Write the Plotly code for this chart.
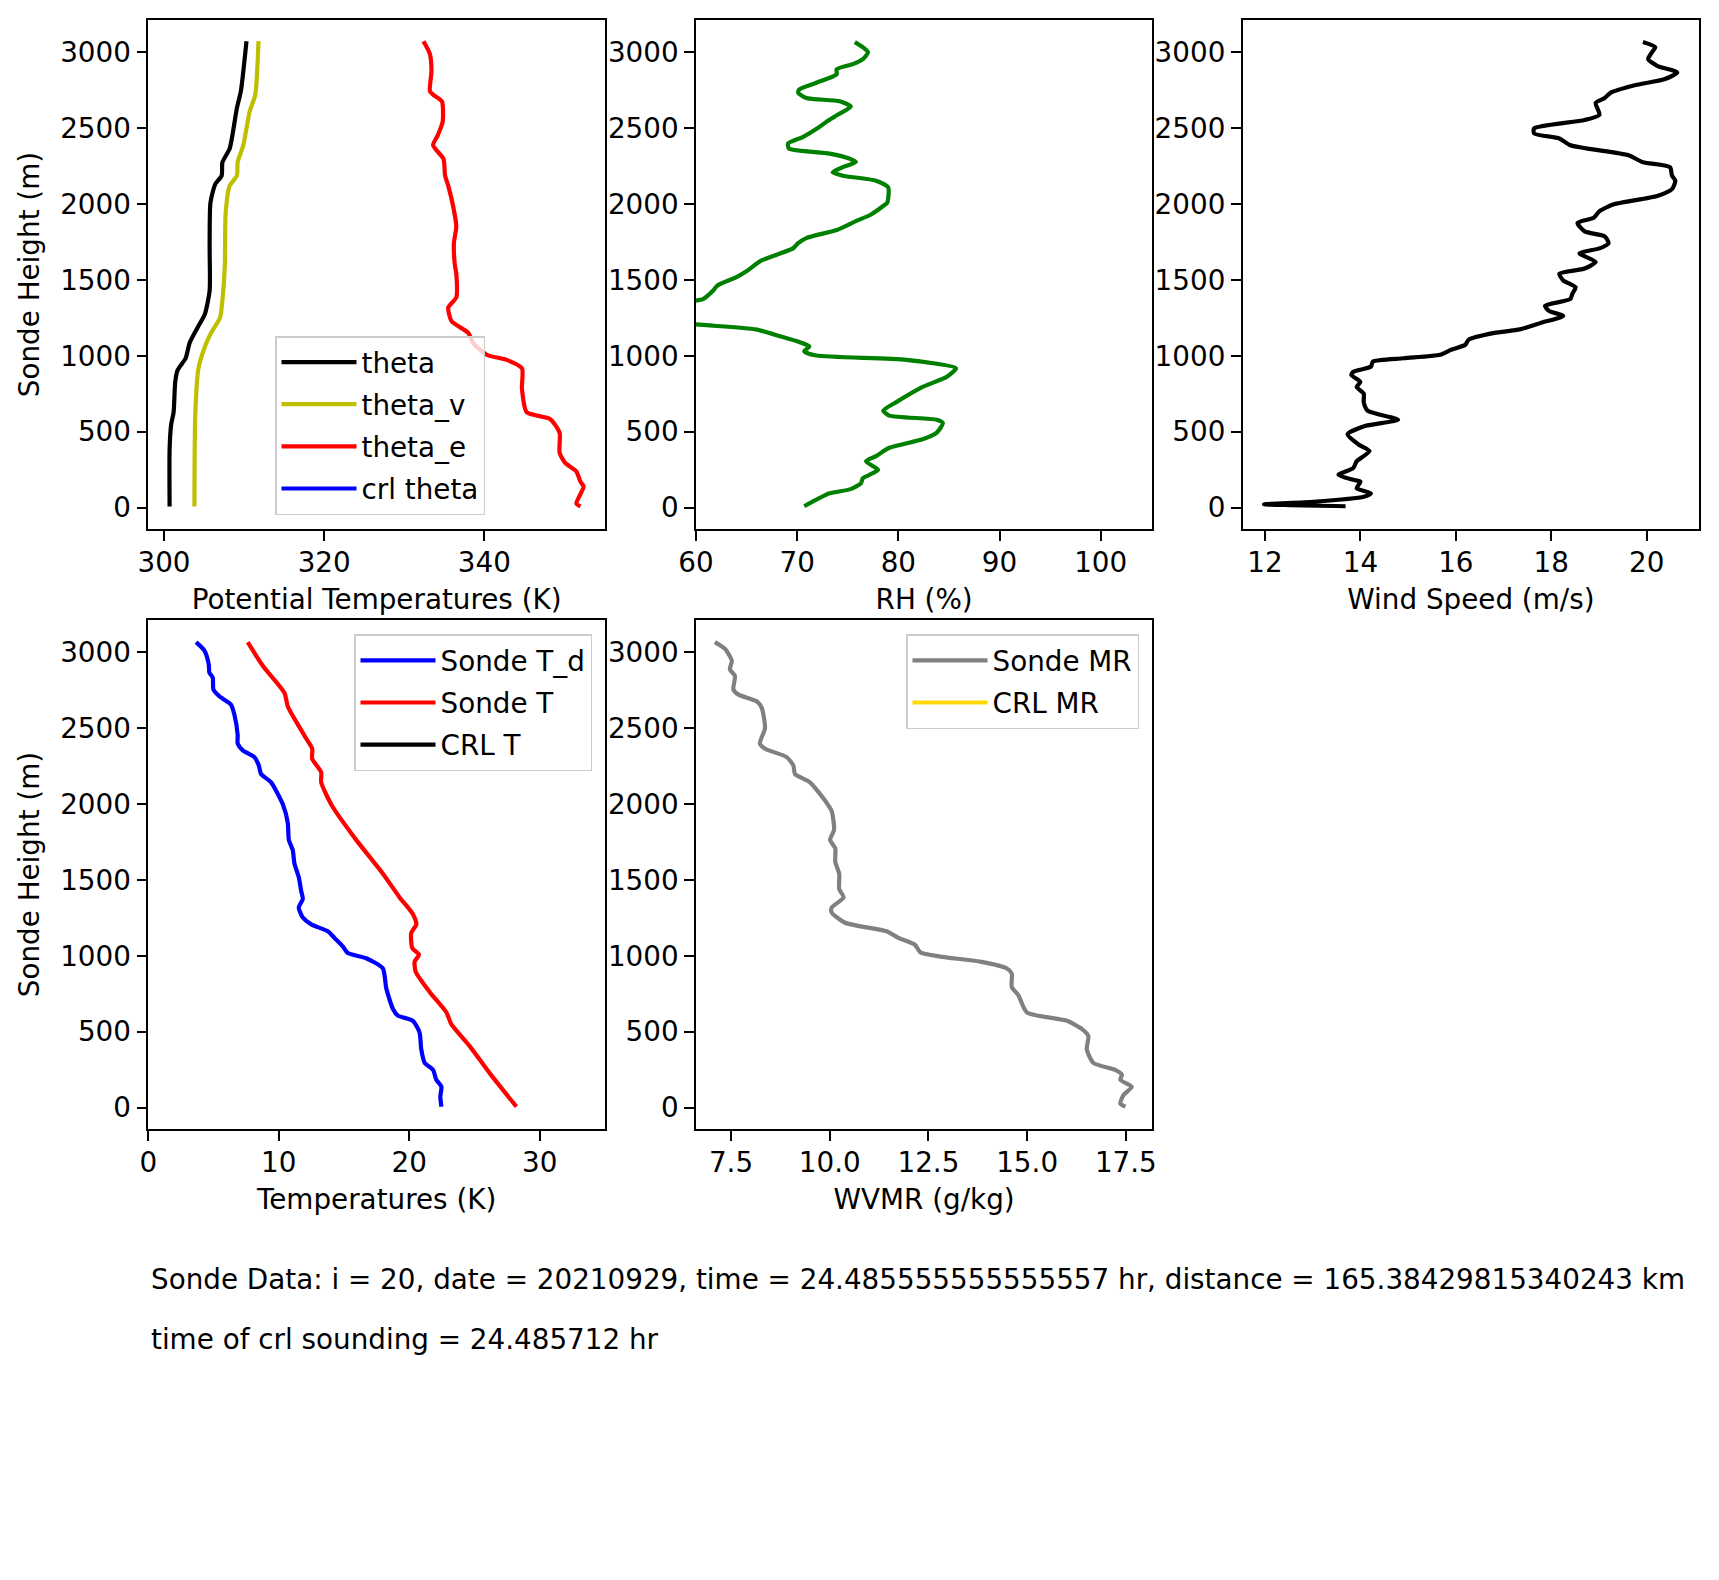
import plotly.graph_objects as go

# ---------------- data ----------------
theta_h = [3073, 2744, 2632, 2365, 2276, 2187, 2131, 2009, 1719, 1430, 1274, 1196, 1085, 984, 906, 828, 628, 550, 383, 8]
theta_v = [310.3, 309.6, 309.1, 308.2, 307.3, 307.2, 306.4, 305.8, 305.7, 305.7, 305.1, 304.3, 303.2, 302.7, 301.7, 301.4, 301.2, 300.9, 300.7, 300.7]

thetav_h = [3073, 2721, 2610, 2387, 2276, 2187, 2120, 1942, 1608, 1430, 1252, 1162, 1073, 918, 606, 8]
thetav_v = [311.8, 311.4, 310.7, 309.9, 309.2, 309.1, 308.2, 307.7, 307.6, 307.4, 307.0, 306.0, 305.2, 304.3, 303.9, 303.8]

thetae_h = [3073, 2989, 2877, 2744, 2721, 2677, 2543, 2454, 2387, 2298, 2187, 2120, 1987, 1853, 1742, 1608, 1541,
            1385, 1318, 1229, 1151, 1085, 1007, 973, 918, 784, 628, 584, 494, 361, 294, 238, 171, 138, 27, 8]
thetae_v = [332.4, 333.2, 333.4, 333.2, 333.6, 334.7, 334.8, 334.2, 333.6, 334.9, 335.1, 335.5, 336.1, 336.5, 336.2,
            336.3, 336.5, 336.5, 335.5, 335.9, 338.0, 338.6, 340.3, 342.8, 344.7, 344.7, 345.3, 348.2, 349.4, 349.4,
            350.1, 351.5, 352.0, 352.4, 351.5, 352.0]

rh_h = [3067, 3033, 3000, 2955, 2922, 2888, 2855, 2799, 2755, 2733, 2699, 2677, 2643, 2588, 2543, 2499, 2443, 2399,
        2365, 2332, 2298, 2276, 2243, 2209, 2187, 2154, 2109, 2009, 1987, 1931, 1887, 1831, 1776, 1742, 1708, 1626,
        1563, 1519, 1463, 1430, 1374, 1363, 1330, 1290, 1240, 1207, 1174, 1129, 1091, 1062, 1029, 1002, 973, 918,
        862, 795, 695, 639, 606, 579, 557, 494, 450, 394, 339, 305, 249, 194, 160, 120, 94, 9]
rh_v = [75.7, 76.5, 77.0, 76.5, 75.5, 73.9, 73.9, 71.9, 70.2, 70.1, 70.9, 74.2, 75.3, 74.0, 72.9, 72.0, 70.6, 69.1,
        69.2, 73.2, 75.2, 75.8, 74.5, 73.5, 74.5, 77.8, 79.0, 78.9, 78.5, 77.3, 75.8, 74.0, 70.9, 70.1, 69.6, 66.4,
        65.1, 64.0, 62.1, 61.7, 60.7, 59.9, 57.0, 52.0, 56.0, 60.0, 65.9, 68.3, 70.2, 71.2, 70.7, 71.9, 80.8, 85.7,
        84.8, 82.4, 79.8, 78.5, 79.1, 83.8, 84.4, 83.8, 82.4, 79.1, 77.8, 76.8, 78.0, 76.5, 76.3, 75.2, 73.2, 70.7]

ws_h = [3067, 3033, 3000, 2955, 2911, 2866, 2822, 2784, 2733, 2699, 2666, 2588, 2554, 2499, 2465, 2432, 2387, 2321,
        2276, 2243, 2187, 2154, 2098, 2053, 1998, 1953, 1909, 1876, 1820, 1787, 1742, 1708, 1675, 1619, 1575, 1541,
        1497, 1452, 1408, 1374, 1330, 1296, 1263, 1218, 1174, 1151, 1107, 1073, 1040, 1007, 984, 962, 929, 895,
        873, 828, 795, 751, 695, 639, 579, 539, 483, 416, 372, 305, 261, 216, 183, 171, 127, 94, 71, 38, 22, 9]
ws_v = [19.92, 20.18, 20.11, 20.03, 20.22, 20.64, 20.37, 19.77, 19.24, 19.12, 18.93, 19.01, 18.70, 17.64, 17.64,
        18.17, 18.40, 19.62, 19.92, 20.49, 20.53, 20.60, 20.53, 20.22, 19.31, 19.01, 18.89, 18.55, 18.70, 19.12,
        19.20, 19.01, 18.59, 18.93, 18.70, 18.17, 18.25, 18.51, 18.44, 18.40, 17.87, 17.95, 18.25, 17.79, 17.34,
        16.81, 16.27, 16.20, 15.90, 15.67, 14.91, 14.26, 14.22, 13.85, 13.81, 14.00, 13.92, 14.07, 14.07, 14.15,
        14.79, 14.11, 13.73, 13.96, 14.19, 13.92, 13.85, 13.54, 13.85, 14.00, 13.92, 14.22, 14.07, 13.01, 11.98, 13.69]

td_h = [3067, 3011, 2922, 2866, 2833, 2755, 2710, 2655, 2588, 2454, 2399, 2354, 2309, 2254, 2198, 2143, 1998, 1875,
        1764, 1697, 1608, 1519, 1430, 1374, 1318, 1252, 1207, 1162, 1118, 1062, 1018, 984, 918, 784, 650, 606, 572,
        494, 383, 294, 249, 183, 138, 71, 6]
td_v = [3.66, 4.30, 4.63, 4.68, 4.94, 4.99, 5.45, 6.34, 6.60, 6.85, 6.85, 7.24, 8.13, 8.47, 8.64, 9.41, 10.31, 10.69,
        10.77, 11.07, 11.20, 11.53, 11.71, 11.84, 11.53, 11.84, 12.48, 13.76, 14.27, 14.91, 15.29, 16.70, 17.97,
        18.24, 18.75, 19.13, 20.28, 20.79, 20.92, 21.18, 21.82, 22.07, 22.46, 22.38, 22.46]

t_h = [3067, 2911, 2733, 2643, 2543, 2432, 2365, 2298, 2209, 2143, 1987, 1764, 1541, 1385, 1274, 1207, 1151, 1051,
       1007, 962, 895, 762, 628, 550, 405, 227, 6]
t_v = [7.62, 8.77, 10.43, 10.69, 11.33, 12.10, 12.56, 12.56, 13.25, 13.25, 14.09, 15.93, 17.98, 19.26, 20.28, 20.54,
       20.15, 20.23, 20.74, 20.41, 20.49, 21.56, 22.84, 23.22, 24.63, 26.16, 28.21]

mr_h = [3067, 3022, 2944, 2888, 2844, 2755, 2721, 2677, 2632, 2499, 2399, 2365, 2309, 2254, 2198, 2143, 2009, 1953,
        1831, 1764, 1708, 1619, 1541, 1441, 1385, 1318, 1285, 1218, 1162, 1118, 1073, 1024, 995, 962, 918, 884, 795,
        740, 628, 572, 517, 472, 383, 294, 249, 216, 183, 138, 82, 27, 6]
mr_v = [7.09, 7.35, 7.52, 7.47, 7.60, 7.56, 7.69, 8.15, 8.28, 8.36, 8.23, 8.36, 8.91, 9.08, 9.12, 9.50, 9.92, 10.05,
        10.11, 10.01, 10.14, 10.14, 10.24, 10.24, 10.35, 10.05, 10.05, 10.39, 11.44, 11.74, 12.16, 12.29, 12.80,
        13.81, 14.48, 14.61, 14.61, 14.78, 14.99, 16.01, 16.39, 16.55, 16.51, 16.68, 17.23, 17.40, 17.36, 17.65,
        17.44, 17.36, 17.49]

y_ticks = [0, 500, 1000, 1500, 2000, 2500, 3000]
info_line1 = "Sonde Data: i = 20, date = 20210929, time = 24.485555555555557 hr, distance = 165.38429815340243 km"
info_line2 = "time of crl sounding = 24.485712 hr"

# ---------------- figure ----------------
W, H = 1719, 1580
OFF = 8  # page body margin of the html document
FONT = "DejaVu Sans, Verdana, sans-serif"
FS = 27.8
LW = 4.2

def px_x(a, b):
    return [(a - OFF) / W, (b - OFF) / W]

def px_y(top, bottom):
    return [(H - (bottom - OFF)) / H, (H - (top - OFF)) / H]

def fx(p):
    return (p - OFF) / W

def fy(p):
    return (H - (p - OFF)) / H

fig = go.Figure()

def add(x, y, color, name, xa, ya, legend="legend", show=True):
    fig.add_trace(go.Scatter(x=x, y=y, mode="lines", name=name,
                             line=dict(color=color, width=LW, shape="spline", smoothing=0.6),
                             xaxis=xa, yaxis=ya, showlegend=show, legend=legend,
                             legendgroup=name))

add(theta_v, theta_h, "#000000", "theta", "x", "y", "legend")
add(thetav_v, thetav_h, "#bfbf00", "theta_v", "x", "y", "legend")
add(thetae_v, thetae_h, "#ff0000", "theta_e", "x", "y", "legend")
add([None], [None], "#0000ff", "crl theta", "x", "y", "legend")

add(rh_v, rh_h, "#008000", "RH", "x2", "y2", show=False)
add(ws_v, ws_h, "#000000", "Wind", "x3", "y3", show=False)

add(td_v, td_h, "#0000ff", "Sonde T_d", "x4", "y4", "legend2")
add(t_v, t_h, "#ff0000", "Sonde T", "x4", "y4", "legend2")
add([None], [None], "#000000", "CRL T", "x4", "y4", "legend2")

add(mr_v, mr_h, "#808080", "Sonde MR", "x5", "y5", "legend3")
add([None], [None], "#ffd700", "CRL MR", "x5", "y5", "legend3")

cols = [px_x(148.3, 605), px_x(696, 1152.3), px_x(1242.7, 1699)]
rows = [px_y(20.1, 529), px_y(620.1, 1129)]
yr = [-141, 3212]

axis_common = dict(showline=True, mirror=True, linecolor="black", linewidth=2.2,
                   ticks="outside", ticklen=9.7, tickwidth=2.2, tickcolor="black",
                   showgrid=False, zeroline=False, automargin=False,
                   tickfont=dict(family=FONT, size=FS, color="black"),
                   title_font=dict(family=FONT, size=FS, color="black"))

def xax(dom, rng, title, anchor, dtick, tick0, fmt=None):
    d = dict(axis_common, domain=dom, range=rng, anchor=anchor, dtick=dtick, tick0=tick0,
             ticklabelstandoff=-2, title=dict(text=title, standoff=11))
    if fmt:
        d["tickformat"] = fmt
    return d

def yax(dom, anchor, title=None):
    d = dict(axis_common, domain=dom, range=yr, anchor=anchor, tickvals=y_ticks, ticklabelstandoff=0)
    if title:
        d["title"] = dict(text=title, standoff=12)
    return d

leg_style = dict(bgcolor="rgba(255,255,255,0.8)", bordercolor="#cccccc", borderwidth=1.5,
                 font=dict(family=FONT, size=FS, color="black"),
                 itemwidth=75, tracegroupgap=3)

fig.update_layout(
    template="none",
    width=W, height=H, margin=dict(l=0, r=0, t=0, b=0, autoexpand=False),
    paper_bgcolor="white", plot_bgcolor="white",
    font=dict(family=FONT, size=FS, color="black"),
    xaxis=xax(cols[0], [298.04, 355.07], "Potential Temperatures (K)", "y", 20, 300),
    yaxis=yax(rows[0], "x", "Sonde Height (m)"),
    xaxis2=xax(cols[1], [60, 105.1], "RH (%)", "y2", 10, 60),
    yaxis2=yax(rows[0], "x2"),
    xaxis3=xax(cols[2], [11.533, 21.096], "Wind Speed (m/s)", "y3", 2, 12),
    yaxis3=yax(rows[0], "x3"),
    xaxis4=xax(cols[0], [0, 35], "Temperatures (K)", "y4", 10, 0),
    yaxis4=yax(rows[1], "x4", "Sonde Height (m)"),
    xaxis5=xax(cols[1], [6.613, 18.17], "WVMR (g/kg)", "y5", 2.5, 7.5, ".1f"),
    yaxis5=yax(rows[1], "x5"),
    legend=dict(leg_style, x=fx(485), y=fy(515), xanchor="right", yanchor="bottom"),
    legend2=dict(leg_style, x=fx(592), y=fy(634.3), xanchor="right", yanchor="top"),
    legend3=dict(leg_style, x=fx(1139), y=fy(634.3), xanchor="right", yanchor="top"),
    annotations=[
        dict(text=info_line1, xref="paper", yref="paper", x=fx(149), y=fy(1279),
             xanchor="left", yanchor="middle", showarrow=False,
             font=dict(family=FONT, size=FS, color="black")),
        dict(text=info_line2, xref="paper", yref="paper", x=fx(149), y=fy(1339),
             xanchor="left", yanchor="middle", showarrow=False,
             font=dict(family=FONT, size=FS, color="black")),
    ],
)

fig.write_html("out.html")
